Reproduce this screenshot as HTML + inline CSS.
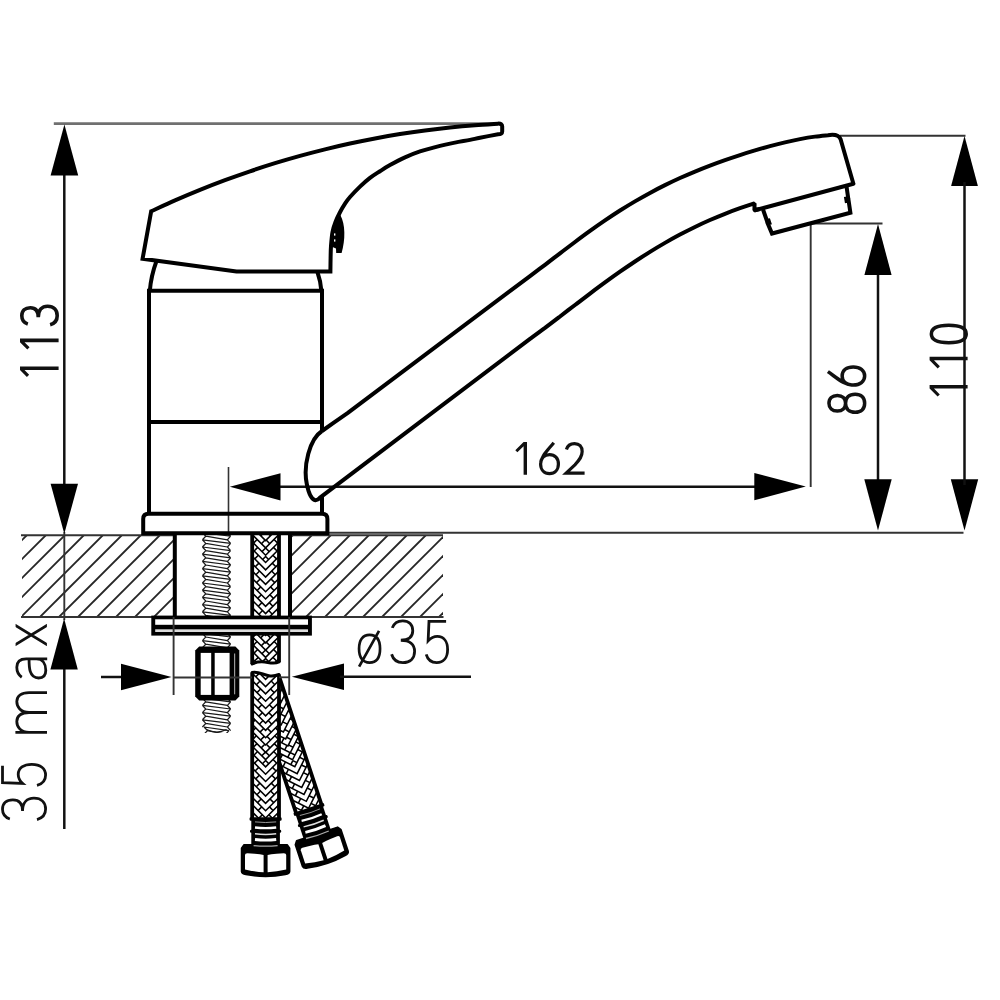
<!DOCTYPE html>
<html><head><meta charset="utf-8"><title>Faucet dimensions</title>
<style>html,body{margin:0;padding:0;background:#fff;width:1000px;height:1000px;overflow:hidden;}svg{display:block;}text{font-family:"Liberation Sans",sans-serif;fill:#111;}</style></head><body>
<svg width="1000" height="1000" viewBox="0 0 1000 1000">
<rect x="0" y="0" width="1000" height="1000" fill="#fff"/>
<defs>
<clipPath id="hatchL"><rect x="22" y="535" width="151.5" height="82"/></clipPath>
<clipPath id="hatchR"><rect x="291" y="535" width="152" height="82"/></clipPath>
</defs>
<g clip-path="url(#hatchL)" stroke="#262626" stroke-width="1.8">
<line x1="-55" y1="617" x2="27" y2="535"/>
<line x1="-36" y1="617" x2="46" y2="535"/>
<line x1="-17" y1="617" x2="65" y2="535"/>
<line x1="2" y1="617" x2="84" y2="535"/>
<line x1="21" y1="617" x2="103" y2="535"/>
<line x1="40" y1="617" x2="122" y2="535"/>
<line x1="59" y1="617" x2="141" y2="535"/>
<line x1="78" y1="617" x2="160" y2="535"/>
<line x1="97" y1="617" x2="179" y2="535"/>
<line x1="116" y1="617" x2="198" y2="535"/>
<line x1="135" y1="617" x2="217" y2="535"/>
<line x1="154" y1="617" x2="236" y2="535"/>
<line x1="173" y1="617" x2="255" y2="535"/>
</g>
<g clip-path="url(#hatchR)" stroke="#262626" stroke-width="1.8">
<line x1="211" y1="617" x2="293" y2="535"/>
<line x1="230" y1="617" x2="312" y2="535"/>
<line x1="249" y1="617" x2="331" y2="535"/>
<line x1="268" y1="617" x2="350" y2="535"/>
<line x1="287" y1="617" x2="369" y2="535"/>
<line x1="306" y1="617" x2="388" y2="535"/>
<line x1="325" y1="617" x2="407" y2="535"/>
<line x1="344" y1="617" x2="426" y2="535"/>
<line x1="363" y1="617" x2="445" y2="535"/>
<line x1="382" y1="617" x2="464" y2="535"/>
<line x1="401" y1="617" x2="483" y2="535"/>
<line x1="420" y1="617" x2="502" y2="535"/>
<line x1="439" y1="617" x2="521" y2="535"/>
</g>
<line x1="21" y1="535.2" x2="173.5" y2="535.2" stroke="#333" stroke-width="2" />
<line x1="291" y1="535.2" x2="443" y2="535.2" stroke="#333" stroke-width="2" />
<line x1="21" y1="617" x2="443.5" y2="617" stroke="#333" stroke-width="2" />
<line x1="53.8" y1="123.7" x2="498" y2="123.7" stroke="#707070" stroke-width="2.7" />
<line x1="327" y1="532.7" x2="963.5" y2="532.7" stroke="#333" stroke-width="1.9" />
<line x1="64.3" y1="170" x2="64.3" y2="490" stroke="#111" stroke-width="2.5" />
<line x1="64.3" y1="532" x2="64.3" y2="620" stroke="#333" stroke-width="1.9" />
<line x1="64.3" y1="665" x2="64.3" y2="829" stroke="#111" stroke-width="2.5" />
<polygon points="64.4,124.6 50.6,175.6 78.2,175.6" fill="#000"/>
<polygon points="64.3,533.8 50.6,483.8 78,483.8" fill="#000"/>
<polygon points="64.1,618.4 50.4,669.4 77.8,669.4" fill="#000"/>
<line x1="275" y1="486.8" x2="760" y2="486.8" stroke="#111" stroke-width="2.5" />
<polygon points="229.8,486.8 280.5,473.2 280.5,500.4" fill="#000"/>
<polygon points="805.8,486.6 754.3,472.9 754.3,500.3" fill="#000"/>
<line x1="228.5" y1="467" x2="228.5" y2="536" stroke="#333" stroke-width="1.6" />
<line x1="810.7" y1="223.5" x2="810.7" y2="487" stroke="#333" stroke-width="1.9" />
<line x1="810" y1="223.5" x2="882.5" y2="223.5" stroke="#333" stroke-width="1.9" />
<line x1="878" y1="270" x2="878" y2="485" stroke="#111" stroke-width="2.5" />
<polygon points="878,224 864.4,275 891.6,275" fill="#000"/>
<polygon points="878,530.6 864.3,479.2 891.7,479.2" fill="#000"/>
<line x1="840" y1="135.8" x2="965.5" y2="135.8" stroke="#333" stroke-width="1.9" />
<polygon points="964.5,136 951.1,186 977.9,186" fill="#000"/>
<polygon points="964.5,530.6 950.8,479.2 978.2,479.2" fill="#000"/>
<line x1="101" y1="677" x2="125" y2="677" stroke="#111" stroke-width="2.5" />
<polygon points="171.6,677 121,663.7 121,690.3" fill="#000"/>
<polygon points="291.8,676.8 344,663.5 344,690.1" fill="#000"/>
<line x1="340" y1="676.8" x2="471" y2="676.8" stroke="#111" stroke-width="2.5" />
<clipPath id="t0"><rect x="195" y="535" width="45" height="82"/></clipPath>
<g clip-path="url(#t0)" fill="none" stroke="#1a1a1a" stroke-width="1.25" stroke-linejoin="miter">
<path d="M202.4,525.4 L230.6,529 M205.8,529 L227.4,532.6 M202.4,525.4 L205.8,529 L202.4,532.6 M230.6,529 L227.4,532.6 L230.6,536.2 M202.4,532.6 L230.6,536.2 M205.8,536.2 L227.4,539.8 M202.4,532.6 L205.8,536.2 L202.4,539.8 M230.6,536.2 L227.4,539.8 L230.6,543.4 M202.4,539.8 L230.6,543.4 M205.8,543.4 L227.4,547 M202.4,539.8 L205.8,543.4 L202.4,547 M230.6,543.4 L227.4,547 L230.6,550.6 M202.4,547 L230.6,550.6 M205.8,550.6 L227.4,554.2 M202.4,547 L205.8,550.6 L202.4,554.2 M230.6,550.6 L227.4,554.2 L230.6,557.8 M202.4,554.2 L230.6,557.8 M205.8,557.8 L227.4,561.4 M202.4,554.2 L205.8,557.8 L202.4,561.4 M230.6,557.8 L227.4,561.4 L230.6,565 M202.4,561.4 L230.6,565 M205.8,565 L227.4,568.6 M202.4,561.4 L205.8,565 L202.4,568.6 M230.6,565 L227.4,568.6 L230.6,572.2 M202.4,568.6 L230.6,572.2 M205.8,572.2 L227.4,575.8 M202.4,568.6 L205.8,572.2 L202.4,575.8 M230.6,572.2 L227.4,575.8 L230.6,579.4 M202.4,575.8 L230.6,579.4 M205.8,579.4 L227.4,583 M202.4,575.8 L205.8,579.4 L202.4,583 M230.6,579.4 L227.4,583 L230.6,586.6 M202.4,583 L230.6,586.6 M205.8,586.6 L227.4,590.2 M202.4,583 L205.8,586.6 L202.4,590.2 M230.6,586.6 L227.4,590.2 L230.6,593.8 M202.4,590.2 L230.6,593.8 M205.8,593.8 L227.4,597.4 M202.4,590.2 L205.8,593.8 L202.4,597.4 M230.6,593.8 L227.4,597.4 L230.6,601 M202.4,597.4 L230.6,601 M205.8,601 L227.4,604.6 M202.4,597.4 L205.8,601 L202.4,604.6 M230.6,601 L227.4,604.6 L230.6,608.2 M202.4,604.6 L230.6,608.2 M205.8,608.2 L227.4,611.8 M202.4,604.6 L205.8,608.2 L202.4,611.8 M230.6,608.2 L227.4,611.8 L230.6,615.4 M202.4,611.8 L230.6,615.4 M205.8,615.4 L227.4,619 M202.4,611.8 L205.8,615.4 L202.4,619 M230.6,615.4 L227.4,619 L230.6,622.6 M202.4,619 L230.6,622.6 M205.8,622.6 L227.4,626.2 M202.4,619 L205.8,622.6 L202.4,626.2 M230.6,622.6 L227.4,626.2 L230.6,629.8 "/>
</g>
<clipPath id="t1"><rect x="195" y="635" width="45" height="13"/></clipPath>
<g clip-path="url(#t1)" fill="none" stroke="#1a1a1a" stroke-width="1.25" stroke-linejoin="miter">
<path d="M202.4,626.2 L230.6,629.8 M205.8,629.8 L227.4,633.4 M202.4,626.2 L205.8,629.8 L202.4,633.4 M230.6,629.8 L227.4,633.4 L230.6,637 M202.4,633.4 L230.6,637 M205.8,637 L227.4,640.6 M202.4,633.4 L205.8,637 L202.4,640.6 M230.6,637 L227.4,640.6 L230.6,644.2 M202.4,640.6 L230.6,644.2 M205.8,644.2 L227.4,647.8 M202.4,640.6 L205.8,644.2 L202.4,647.8 M230.6,644.2 L227.4,647.8 L230.6,651.4 M202.4,647.8 L230.6,651.4 M205.8,651.4 L227.4,655 M202.4,647.8 L205.8,651.4 L202.4,655 M230.6,651.4 L227.4,655 L230.6,658.6 M202.4,655 L230.6,658.6 M205.8,658.6 L227.4,662.2 M202.4,655 L205.8,658.6 L202.4,662.2 M230.6,658.6 L227.4,662.2 L230.6,665.8 "/>
</g>
<clipPath id="t2"><rect x="195" y="699" width="45" height="34"/></clipPath>
<g clip-path="url(#t2)" fill="none" stroke="#1a1a1a" stroke-width="1.25" stroke-linejoin="miter">
<path d="M202.4,691 L230.6,694.6 M205.8,694.6 L227.4,698.2 M202.4,691 L205.8,694.6 L202.4,698.2 M230.6,694.6 L227.4,698.2 L230.6,701.8 M202.4,698.2 L230.6,701.8 M205.8,701.8 L227.4,705.4 M202.4,698.2 L205.8,701.8 L202.4,705.4 M230.6,701.8 L227.4,705.4 L230.6,709 M202.4,705.4 L230.6,709 M205.8,709 L227.4,712.6 M202.4,705.4 L205.8,709 L202.4,712.6 M230.6,709 L227.4,712.6 L230.6,716.2 M202.4,712.6 L230.6,716.2 M205.8,716.2 L227.4,719.8 M202.4,712.6 L205.8,716.2 L202.4,719.8 M230.6,716.2 L227.4,719.8 L230.6,723.4 M202.4,719.8 L230.6,723.4 M205.8,723.4 L227.4,727 M202.4,719.8 L205.8,723.4 L202.4,727 M230.6,723.4 L227.4,727 L230.6,730.6 M204.05,727 L228.95,730.6 M207.45,730.6 L225.75,734.2 M204.05,727 L207.45,730.6 L204.05,734.2 M228.95,730.6 L225.75,734.2 L228.95,737.8 M208.01,734.2 L224.99,737.8 M211.41,737.8 L221.79,741.4 M208.01,734.2 L211.41,737.8 L208.01,741.4 M224.99,737.8 L221.79,741.4 L224.99,745 "/>
<path d="M206.4,729.5 Q216.5,734.6 226.6,729.5" />
</g>
<g transform="rotate(-18.3 279.5 676)">
<clipPath id="hb0"><path d="M252.2,676.5 L279,676.5 L279,811.5 L252.2,811.5 Z"/></clipPath>
<path d="M252.2,676.5 L279,676.5 L279,811.5 L252.2,811.5 Z" fill="#fff" stroke="none"/>
<g clip-path="url(#hb0)" stroke="#000" stroke-width="1.55" fill="none">
<path d="M252.6,644.4 L265.6,657.4 L278.6,644.4"/>
<path d="M253.4,645.2 l3.65,-3.65 M277.8,645.2 l-3.65,-3.65"/>
<path d="M261.9,653.7 l3.65,-3.65 M269.3,653.7 l-3.65,-3.65"/>
<path d="M252.6,651.7 L265.6,664.7 L278.6,651.7"/>
<path d="M254,653.1 l3.65,-3.65 M277.2,653.1 l-3.65,-3.65"/>
<path d="M262.5,661.6 l3.1,-3.1 M268.7,661.6 l-3.1,-3.1"/>
<path d="M252.6,659 L265.6,672 L278.6,659"/>
<path d="M254.6,661 l3.65,-3.65 M276.6,661 l-3.65,-3.65"/>
<path d="M252.6,666.3 L265.6,679.3 L278.6,666.3"/>
<path d="M255.2,668.9 l3.65,-3.65 M276,668.9 l-3.65,-3.65"/>
<path d="M252.6,673.6 L265.6,686.6 L278.6,673.6"/>
<path d="M255.8,676.8 l3.65,-3.65 M275.4,676.8 l-3.65,-3.65"/>
<path d="M252.6,680.9 L265.6,693.9 L278.6,680.9"/>
<path d="M256.4,684.7 l3.65,-3.65 M274.8,684.7 l-3.65,-3.65"/>
<path d="M252.6,688.2 L265.6,701.2 L278.6,688.2"/>
<path d="M248.5,684.1 l3.65,-3.65 M282.7,684.1 l-3.65,-3.65"/>
<path d="M257,692.6 l3.65,-3.65 M274.2,692.6 l-3.65,-3.65"/>
<path d="M252.6,695.5 L265.6,708.5 L278.6,695.5"/>
<path d="M249.1,692 l3.65,-3.65 M282.1,692 l-3.65,-3.65"/>
<path d="M257.6,700.5 l3.65,-3.65 M273.6,700.5 l-3.65,-3.65"/>
<path d="M252.6,702.8 L265.6,715.8 L278.6,702.8"/>
<path d="M249.7,699.9 l3.65,-3.65 M281.5,699.9 l-3.65,-3.65"/>
<path d="M258.2,708.4 l3.65,-3.65 M273,708.4 l-3.65,-3.65"/>
<path d="M252.6,710.1 L265.6,723.1 L278.6,710.1"/>
<path d="M250.3,707.8 l3.65,-3.65 M280.9,707.8 l-3.65,-3.65"/>
<path d="M258.8,716.3 l3.65,-3.65 M272.4,716.3 l-3.65,-3.65"/>
<path d="M252.6,717.4 L265.6,730.4 L278.6,717.4"/>
<path d="M250.9,715.7 l3.65,-3.65 M280.3,715.7 l-3.65,-3.65"/>
<path d="M259.4,724.2 l3.65,-3.65 M271.8,724.2 l-3.65,-3.65"/>
<path d="M252.6,724.7 L265.6,737.7 L278.6,724.7"/>
<path d="M251.5,723.6 l3.65,-3.65 M279.7,723.6 l-3.65,-3.65"/>
<path d="M260,732.1 l3.65,-3.65 M271.2,732.1 l-3.65,-3.65"/>
<path d="M252.6,732 L265.6,745 L278.6,732"/>
<path d="M252.1,731.5 l3.65,-3.65 M279.1,731.5 l-3.65,-3.65"/>
<path d="M260.6,740 l3.65,-3.65 M270.6,740 l-3.65,-3.65"/>
<path d="M252.6,739.3 L265.6,752.3 L278.6,739.3"/>
<path d="M252.7,739.4 l3.65,-3.65 M278.5,739.4 l-3.65,-3.65"/>
<path d="M261.2,747.9 l3.65,-3.65 M270,747.9 l-3.65,-3.65"/>
<path d="M252.6,746.6 L265.6,759.6 L278.6,746.6"/>
<path d="M253.3,747.3 l3.65,-3.65 M277.9,747.3 l-3.65,-3.65"/>
<path d="M261.8,755.8 l3.65,-3.65 M269.4,755.8 l-3.65,-3.65"/>
<path d="M252.6,753.9 L265.6,766.9 L278.6,753.9"/>
<path d="M253.9,755.2 l3.65,-3.65 M277.3,755.2 l-3.65,-3.65"/>
<path d="M262.4,763.7 l3.2,-3.2 M268.8,763.7 l-3.2,-3.2"/>
<path d="M252.6,761.2 L265.6,774.2 L278.6,761.2"/>
<path d="M254.5,763.1 l3.65,-3.65 M276.7,763.1 l-3.65,-3.65"/>
<path d="M252.6,768.5 L265.6,781.5 L278.6,768.5"/>
<path d="M255.1,771 l3.65,-3.65 M276.1,771 l-3.65,-3.65"/>
<path d="M252.6,775.8 L265.6,788.8 L278.6,775.8"/>
<path d="M255.7,778.9 l3.65,-3.65 M275.5,778.9 l-3.65,-3.65"/>
<path d="M252.6,783.1 L265.6,796.1 L278.6,783.1"/>
<path d="M256.3,786.8 l3.65,-3.65 M274.9,786.8 l-3.65,-3.65"/>
<path d="M252.6,790.4 L265.6,803.4 L278.6,790.4"/>
<path d="M256.9,794.7 l3.65,-3.65 M274.3,794.7 l-3.65,-3.65"/>
<path d="M252.6,797.7 L265.6,810.7 L278.6,797.7"/>
<path d="M249,794.1 l3.65,-3.65 M282.2,794.1 l-3.65,-3.65"/>
<path d="M257.5,802.6 l3.65,-3.65 M273.7,802.6 l-3.65,-3.65"/>
<path d="M252.6,805 L265.6,818 L278.6,805"/>
<path d="M249.6,802 l3.65,-3.65 M281.6,802 l-3.65,-3.65"/>
<path d="M258.1,810.5 l3.65,-3.65 M273.1,810.5 l-3.65,-3.65"/>
<path d="M252.6,812.3 L265.6,825.3 L278.6,812.3"/>
<path d="M250.2,809.9 l3.65,-3.65 M281,809.9 l-3.65,-3.65"/>
<path d="M258.7,818.4 l3.65,-3.65 M272.5,818.4 l-3.65,-3.65"/>
<path d="M252.6,819.6 L265.6,832.6 L278.6,819.6"/>
<path d="M250.8,817.8 l3.65,-3.65 M280.4,817.8 l-3.65,-3.65"/>
<path d="M259.3,826.3 l3.65,-3.65 M271.9,826.3 l-3.65,-3.65"/>
<path d="M252.6,826.9 L265.6,839.9 L278.6,826.9"/>
<path d="M251.4,825.7 l3.65,-3.65 M279.8,825.7 l-3.65,-3.65"/>
<path d="M259.9,834.2 l3.65,-3.65 M271.3,834.2 l-3.65,-3.65"/>
</g>
<path d="M252.2,676.5 L252.2,811.5 M279,676.5 L279,811.5" stroke="#000" stroke-width="3.8" fill="none"/>
<rect x="249.6" y="810.2" width="32" height="3.6" fill="#000" rx="1.2"/>
<rect x="251.3" y="811.5" width="28.6" height="27" fill="#000"/>
<rect x="250" y="822.7" width="31.2" height="3" fill="#000" rx="1.2"/>
<path d="M255,814.9 Q265.6,816.1 276.2,814.9" stroke="#999" stroke-width="1" fill="none"/>
<path d="M255,820.5 Q265.6,821.7 276.2,820.5" stroke="#fff" stroke-width="2.4" fill="none"/>
<path d="M255,826.8 Q265.6,828 276.2,826.8" stroke="#ddd" stroke-width="1.5" fill="none"/>
<path d="M255,832.5 Q265.6,833.7 276.2,832.5" stroke="#fff" stroke-width="2.8" fill="none"/>
<path d="M244,837.7 L287.2,837.7 L289.7,841.2 L289.7,864 Q289.4,866.6 285.4,867 Q265.6,870.8 245.8,867 Q241.8,866.6 241.5,864 L241.5,841.2 Z" fill="#000" stroke="#000" stroke-width="1.5" stroke-linejoin="round"/>
<path d="M245,848.1 Q245,846.3 247.3,846.3 L254.6,846.7 Q260.6,847.2 263.6,847.9 L263.6,864.8 Q254.6,864.3 245,862 Z" fill="#fff"/>
<path d="M286.2,848.1 Q286.2,846.3 283.9,846.3 L276.6,846.7 Q270.6,847.2 267.6,847.9 L267.6,864.8 Q276.6,864.3 286.2,862 Z" fill="#fff"/>
<path d="M253.6,838.6 Q265.6,839.8 277.6,838.6" stroke="#aaa" stroke-width="1.3" fill="none"/>
</g>
<g>
<clipPath id="ha0"><path d="M252.2,533 L279,533 L279,662 C270,666 264.2,658 252.2,664 Z"/></clipPath>
<path d="M252.2,533 L279,533 L279,662 C270,666 264.2,658 252.2,664 Z" fill="#fff" stroke="none"/>
<g clip-path="url(#ha0)" stroke="#000" stroke-width="1.55" fill="none">
<path d="M252.6,498.4 L265.6,511.4 L278.6,498.4"/>
<path d="M249.9,495.7 l3.65,-3.65 M281.3,495.7 l-3.65,-3.65"/>
<path d="M258.4,504.2 l3.65,-3.65 M272.8,504.2 l-3.65,-3.65"/>
<path d="M252.6,505.7 L265.6,518.7 L278.6,505.7"/>
<path d="M250.5,503.6 l3.65,-3.65 M280.7,503.6 l-3.65,-3.65"/>
<path d="M259,512.1 l3.65,-3.65 M272.2,512.1 l-3.65,-3.65"/>
<path d="M252.6,513 L265.6,526 L278.6,513"/>
<path d="M251.1,511.5 l3.65,-3.65 M280.1,511.5 l-3.65,-3.65"/>
<path d="M259.6,520 l3.65,-3.65 M271.6,520 l-3.65,-3.65"/>
<path d="M252.6,520.3 L265.6,533.3 L278.6,520.3"/>
<path d="M251.7,519.4 l3.65,-3.65 M279.5,519.4 l-3.65,-3.65"/>
<path d="M260.2,527.9 l3.65,-3.65 M271,527.9 l-3.65,-3.65"/>
<path d="M252.6,527.6 L265.6,540.6 L278.6,527.6"/>
<path d="M252.3,527.3 l3.65,-3.65 M278.9,527.3 l-3.65,-3.65"/>
<path d="M260.8,535.8 l3.65,-3.65 M270.4,535.8 l-3.65,-3.65"/>
<path d="M252.6,534.9 L265.6,547.9 L278.6,534.9"/>
<path d="M252.9,535.2 l3.65,-3.65 M278.3,535.2 l-3.65,-3.65"/>
<path d="M261.4,543.7 l3.65,-3.65 M269.8,543.7 l-3.65,-3.65"/>
<path d="M252.6,542.2 L265.6,555.2 L278.6,542.2"/>
<path d="M253.5,543.1 l3.65,-3.65 M277.7,543.1 l-3.65,-3.65"/>
<path d="M262,551.6 l3.6,-3.6 M269.2,551.6 l-3.6,-3.6"/>
<path d="M252.6,549.5 L265.6,562.5 L278.6,549.5"/>
<path d="M254.1,551 l3.65,-3.65 M277.1,551 l-3.65,-3.65"/>
<path d="M262.6,559.5 l3,-3 M268.6,559.5 l-3,-3"/>
<path d="M252.6,556.8 L265.6,569.8 L278.6,556.8"/>
<path d="M254.7,558.9 l3.65,-3.65 M276.5,558.9 l-3.65,-3.65"/>
<path d="M252.6,564.1 L265.6,577.1 L278.6,564.1"/>
<path d="M255.3,566.8 l3.65,-3.65 M275.9,566.8 l-3.65,-3.65"/>
<path d="M252.6,571.4 L265.6,584.4 L278.6,571.4"/>
<path d="M255.9,574.7 l3.65,-3.65 M275.3,574.7 l-3.65,-3.65"/>
<path d="M252.6,578.7 L265.6,591.7 L278.6,578.7"/>
<path d="M256.5,582.6 l3.65,-3.65 M274.7,582.6 l-3.65,-3.65"/>
<path d="M252.6,586 L265.6,599 L278.6,586"/>
<path d="M248.6,582 l3.65,-3.65 M282.6,582 l-3.65,-3.65"/>
<path d="M257.1,590.5 l3.65,-3.65 M274.1,590.5 l-3.65,-3.65"/>
<path d="M252.6,593.3 L265.6,606.3 L278.6,593.3"/>
<path d="M249.2,589.9 l3.65,-3.65 M282,589.9 l-3.65,-3.65"/>
<path d="M257.7,598.4 l3.65,-3.65 M273.5,598.4 l-3.65,-3.65"/>
<path d="M252.6,600.6 L265.6,613.6 L278.6,600.6"/>
<path d="M249.8,597.8 l3.65,-3.65 M281.4,597.8 l-3.65,-3.65"/>
<path d="M258.3,606.3 l3.65,-3.65 M272.9,606.3 l-3.65,-3.65"/>
<path d="M252.6,607.9 L265.6,620.9 L278.6,607.9"/>
<path d="M250.4,605.7 l3.65,-3.65 M280.8,605.7 l-3.65,-3.65"/>
<path d="M258.9,614.2 l3.65,-3.65 M272.3,614.2 l-3.65,-3.65"/>
<path d="M252.6,615.2 L265.6,628.2 L278.6,615.2"/>
<path d="M251,613.6 l3.65,-3.65 M280.2,613.6 l-3.65,-3.65"/>
<path d="M259.5,622.1 l3.65,-3.65 M271.7,622.1 l-3.65,-3.65"/>
<path d="M252.6,622.5 L265.6,635.5 L278.6,622.5"/>
<path d="M251.6,621.5 l3.65,-3.65 M279.6,621.5 l-3.65,-3.65"/>
<path d="M260.1,630 l3.65,-3.65 M271.1,630 l-3.65,-3.65"/>
<path d="M252.6,629.8 L265.6,642.8 L278.6,629.8"/>
<path d="M252.2,629.4 l3.65,-3.65 M279,629.4 l-3.65,-3.65"/>
<path d="M260.7,637.9 l3.65,-3.65 M270.5,637.9 l-3.65,-3.65"/>
<path d="M252.6,637.1 L265.6,650.1 L278.6,637.1"/>
<path d="M252.8,637.3 l3.65,-3.65 M278.4,637.3 l-3.65,-3.65"/>
<path d="M261.3,645.8 l3.65,-3.65 M269.9,645.8 l-3.65,-3.65"/>
<path d="M252.6,644.4 L265.6,657.4 L278.6,644.4"/>
<path d="M253.4,645.2 l3.65,-3.65 M277.8,645.2 l-3.65,-3.65"/>
<path d="M261.9,653.7 l3.65,-3.65 M269.3,653.7 l-3.65,-3.65"/>
<path d="M252.6,651.7 L265.6,664.7 L278.6,651.7"/>
<path d="M254,653.1 l3.65,-3.65 M277.2,653.1 l-3.65,-3.65"/>
<path d="M262.5,661.6 l3.1,-3.1 M268.7,661.6 l-3.1,-3.1"/>
<path d="M252.6,659 L265.6,672 L278.6,659"/>
<path d="M254.6,661 l3.65,-3.65 M276.6,661 l-3.65,-3.65"/>
<path d="M252.6,666.3 L265.6,679.3 L278.6,666.3"/>
<path d="M255.2,668.9 l3.65,-3.65 M276,668.9 l-3.65,-3.65"/>
<path d="M252.6,673.6 L265.6,686.6 L278.6,673.6"/>
<path d="M255.8,676.8 l3.65,-3.65 M275.4,676.8 l-3.65,-3.65"/>
<path d="M252.6,680.9 L265.6,693.9 L278.6,680.9"/>
<path d="M256.4,684.7 l3.65,-3.65 M274.8,684.7 l-3.65,-3.65"/>
</g>
<path d="M252.2,533 L252.2,664 M279,533 L279,662" stroke="#000" stroke-width="3.8" fill="none"/>
<path d="M279,662 C270,666 264.2,658 252.2,664" stroke="#000" stroke-width="3" fill="none" stroke-linecap="round"/>
<clipPath id="ha1"><path d="M252.2,672.5 C261.2,670.5 267,679.5 279,674.5 L279,818.5 L252.2,818.5 Z"/></clipPath>
<path d="M252.2,672.5 C261.2,670.5 267,679.5 279,674.5 L279,818.5 L252.2,818.5 Z" fill="#fff" stroke="none"/>
<g clip-path="url(#ha1)" stroke="#000" stroke-width="1.55" fill="none">
<path d="M252.6,644.4 L265.6,657.4 L278.6,644.4"/>
<path d="M253.4,645.2 l3.65,-3.65 M277.8,645.2 l-3.65,-3.65"/>
<path d="M261.9,653.7 l3.65,-3.65 M269.3,653.7 l-3.65,-3.65"/>
<path d="M252.6,651.7 L265.6,664.7 L278.6,651.7"/>
<path d="M254,653.1 l3.65,-3.65 M277.2,653.1 l-3.65,-3.65"/>
<path d="M262.5,661.6 l3.1,-3.1 M268.7,661.6 l-3.1,-3.1"/>
<path d="M252.6,659 L265.6,672 L278.6,659"/>
<path d="M254.6,661 l3.65,-3.65 M276.6,661 l-3.65,-3.65"/>
<path d="M252.6,666.3 L265.6,679.3 L278.6,666.3"/>
<path d="M255.2,668.9 l3.65,-3.65 M276,668.9 l-3.65,-3.65"/>
<path d="M252.6,673.6 L265.6,686.6 L278.6,673.6"/>
<path d="M255.8,676.8 l3.65,-3.65 M275.4,676.8 l-3.65,-3.65"/>
<path d="M252.6,680.9 L265.6,693.9 L278.6,680.9"/>
<path d="M256.4,684.7 l3.65,-3.65 M274.8,684.7 l-3.65,-3.65"/>
<path d="M252.6,688.2 L265.6,701.2 L278.6,688.2"/>
<path d="M248.5,684.1 l3.65,-3.65 M282.7,684.1 l-3.65,-3.65"/>
<path d="M257,692.6 l3.65,-3.65 M274.2,692.6 l-3.65,-3.65"/>
<path d="M252.6,695.5 L265.6,708.5 L278.6,695.5"/>
<path d="M249.1,692 l3.65,-3.65 M282.1,692 l-3.65,-3.65"/>
<path d="M257.6,700.5 l3.65,-3.65 M273.6,700.5 l-3.65,-3.65"/>
<path d="M252.6,702.8 L265.6,715.8 L278.6,702.8"/>
<path d="M249.7,699.9 l3.65,-3.65 M281.5,699.9 l-3.65,-3.65"/>
<path d="M258.2,708.4 l3.65,-3.65 M273,708.4 l-3.65,-3.65"/>
<path d="M252.6,710.1 L265.6,723.1 L278.6,710.1"/>
<path d="M250.3,707.8 l3.65,-3.65 M280.9,707.8 l-3.65,-3.65"/>
<path d="M258.8,716.3 l3.65,-3.65 M272.4,716.3 l-3.65,-3.65"/>
<path d="M252.6,717.4 L265.6,730.4 L278.6,717.4"/>
<path d="M250.9,715.7 l3.65,-3.65 M280.3,715.7 l-3.65,-3.65"/>
<path d="M259.4,724.2 l3.65,-3.65 M271.8,724.2 l-3.65,-3.65"/>
<path d="M252.6,724.7 L265.6,737.7 L278.6,724.7"/>
<path d="M251.5,723.6 l3.65,-3.65 M279.7,723.6 l-3.65,-3.65"/>
<path d="M260,732.1 l3.65,-3.65 M271.2,732.1 l-3.65,-3.65"/>
<path d="M252.6,732 L265.6,745 L278.6,732"/>
<path d="M252.1,731.5 l3.65,-3.65 M279.1,731.5 l-3.65,-3.65"/>
<path d="M260.6,740 l3.65,-3.65 M270.6,740 l-3.65,-3.65"/>
<path d="M252.6,739.3 L265.6,752.3 L278.6,739.3"/>
<path d="M252.7,739.4 l3.65,-3.65 M278.5,739.4 l-3.65,-3.65"/>
<path d="M261.2,747.9 l3.65,-3.65 M270,747.9 l-3.65,-3.65"/>
<path d="M252.6,746.6 L265.6,759.6 L278.6,746.6"/>
<path d="M253.3,747.3 l3.65,-3.65 M277.9,747.3 l-3.65,-3.65"/>
<path d="M261.8,755.8 l3.65,-3.65 M269.4,755.8 l-3.65,-3.65"/>
<path d="M252.6,753.9 L265.6,766.9 L278.6,753.9"/>
<path d="M253.9,755.2 l3.65,-3.65 M277.3,755.2 l-3.65,-3.65"/>
<path d="M262.4,763.7 l3.2,-3.2 M268.8,763.7 l-3.2,-3.2"/>
<path d="M252.6,761.2 L265.6,774.2 L278.6,761.2"/>
<path d="M254.5,763.1 l3.65,-3.65 M276.7,763.1 l-3.65,-3.65"/>
<path d="M252.6,768.5 L265.6,781.5 L278.6,768.5"/>
<path d="M255.1,771 l3.65,-3.65 M276.1,771 l-3.65,-3.65"/>
<path d="M252.6,775.8 L265.6,788.8 L278.6,775.8"/>
<path d="M255.7,778.9 l3.65,-3.65 M275.5,778.9 l-3.65,-3.65"/>
<path d="M252.6,783.1 L265.6,796.1 L278.6,783.1"/>
<path d="M256.3,786.8 l3.65,-3.65 M274.9,786.8 l-3.65,-3.65"/>
<path d="M252.6,790.4 L265.6,803.4 L278.6,790.4"/>
<path d="M256.9,794.7 l3.65,-3.65 M274.3,794.7 l-3.65,-3.65"/>
<path d="M252.6,797.7 L265.6,810.7 L278.6,797.7"/>
<path d="M249,794.1 l3.65,-3.65 M282.2,794.1 l-3.65,-3.65"/>
<path d="M257.5,802.6 l3.65,-3.65 M273.7,802.6 l-3.65,-3.65"/>
<path d="M252.6,805 L265.6,818 L278.6,805"/>
<path d="M249.6,802 l3.65,-3.65 M281.6,802 l-3.65,-3.65"/>
<path d="M258.1,810.5 l3.65,-3.65 M273.1,810.5 l-3.65,-3.65"/>
<path d="M252.6,812.3 L265.6,825.3 L278.6,812.3"/>
<path d="M250.2,809.9 l3.65,-3.65 M281,809.9 l-3.65,-3.65"/>
<path d="M258.7,818.4 l3.65,-3.65 M272.5,818.4 l-3.65,-3.65"/>
<path d="M252.6,819.6 L265.6,832.6 L278.6,819.6"/>
<path d="M250.8,817.8 l3.65,-3.65 M280.4,817.8 l-3.65,-3.65"/>
<path d="M259.3,826.3 l3.65,-3.65 M271.9,826.3 l-3.65,-3.65"/>
<path d="M252.6,826.9 L265.6,839.9 L278.6,826.9"/>
<path d="M251.4,825.7 l3.65,-3.65 M279.8,825.7 l-3.65,-3.65"/>
<path d="M259.9,834.2 l3.65,-3.65 M271.3,834.2 l-3.65,-3.65"/>
<path d="M252.6,834.2 L265.6,847.2 L278.6,834.2"/>
<path d="M252,833.6 l3.65,-3.65 M279.2,833.6 l-3.65,-3.65"/>
<path d="M260.5,842.1 l3.65,-3.65 M270.7,842.1 l-3.65,-3.65"/>
</g>
<path d="M252.2,672.5 L252.2,818.5 M279,674.5 L279,818.5" stroke="#000" stroke-width="3.8" fill="none"/>
<path d="M252.2,672.5 C261.2,670.5 267,679.5 279,674.5" stroke="#000" stroke-width="3" fill="none" stroke-linecap="round"/>
<rect x="249.6" y="817.2" width="32" height="3.6" fill="#000" rx="1.2"/>
<rect x="251.3" y="818.5" width="28.6" height="27" fill="#000"/>
<rect x="250" y="829.7" width="31.2" height="3" fill="#000" rx="1.2"/>
<path d="M255,821.9 Q265.6,823.1 276.2,821.9" stroke="#999" stroke-width="1" fill="none"/>
<path d="M255,827.5 Q265.6,828.7 276.2,827.5" stroke="#fff" stroke-width="2.4" fill="none"/>
<path d="M255,833.8 Q265.6,835 276.2,833.8" stroke="#ddd" stroke-width="1.5" fill="none"/>
<path d="M255,839.5 Q265.6,840.7 276.2,839.5" stroke="#fff" stroke-width="2.8" fill="none"/>
<path d="M244,844.7 L287.2,844.7 L289.7,848.2 L289.7,871.5 Q289.4,874.1 285.4,874.5 Q265.6,878.3 245.8,874.5 Q241.8,874.1 241.5,871.5 L241.5,848.2 Z" fill="#000" stroke="#000" stroke-width="1.5" stroke-linejoin="round"/>
<path d="M245,855.1 Q245,853.3 247.3,853.3 L254.6,853.7 Q260.6,854.2 263.6,854.9 L263.6,872.3 Q254.6,871.8 245,869.5 Z" fill="#fff"/>
<path d="M286.2,855.1 Q286.2,853.3 283.9,853.3 L276.6,853.7 Q270.6,854.2 267.6,854.9 L267.6,872.3 Q276.6,871.8 286.2,869.5 Z" fill="#fff"/>
<path d="M253.6,845.6 Q265.6,846.8 277.6,845.6" stroke="#aaa" stroke-width="1.3" fill="none"/>
</g>
<path d="M174.8,533 L174.8,617 M290,533 L290,617" fill="none" stroke="#000" stroke-width="4" />
<rect x="151.3" y="615.6" width="160.6" height="20" fill="#000"/>
<rect x="155.2" y="619.3" width="152.8" height="5.5" fill="#fff"/>
<rect x="155.2" y="629.3" width="152.8" height="2.7" fill="#dcdcdc"/>
<path d="M199.2,646.5 L235.4,646.5 L239.3,650.6 L239.3,696.4 L235.4,700.4 L199.2,700.4 L195.2,696.4 L195.2,650.6 Z" fill="#000"/>
<rect x="200.7" y="652.9" width="10.5" height="42" fill="#fff"/>
<rect x="214.7" y="652.9" width="14.9" height="42" fill="#fff"/>
<rect x="234" y="653.5" width="1.2" height="40.8" fill="#999"/>
<line x1="173.8" y1="677.5" x2="252" y2="677.5" stroke="#333" stroke-width="1.9" />
<line x1="279" y1="677.3" x2="289.2" y2="677.3" stroke="#333" stroke-width="1.8" />
<line x1="173.6" y1="617" x2="173.6" y2="695" stroke="#333" stroke-width="1.9" />
<line x1="289.2" y1="617" x2="289.2" y2="695" stroke="#333" stroke-width="1.9" />
<path d="M143.2,533.2 L143.2,519 Q143.2,513.8 148.6,513.8 L322,513.8 Q327.4,513.8 327.4,519 L327.4,533.2 Z" fill="none" stroke="#000" stroke-width="4" stroke-linejoin="miter"/>
<path d="M149,291 L149,514" fill="none" stroke="#000" stroke-width="4" />
<path d="M322,291 L322,432 M322,497 L322,514" fill="none" stroke="#000" stroke-width="4" />
<path d="M147,290.8 L324,290.8" fill="none" stroke="#000" stroke-width="4" />
<path d="M147.2,422 L322,422" fill="none" stroke="#000" stroke-width="4" />
<path d="M156.5,261 Q151,276 149.8,291" fill="none" stroke="#000" stroke-width="4" />
<path d="M317.3,271.5 Q320.6,281 321.4,291" fill="none" stroke="#000" stroke-width="4" />
<path d="M142.6,258.7 L151.2,211.23 C155.17,209.43 166.87,203.97 175,200.41 C183.13,196.85 191.67,193.25 200,189.88 C208.33,186.51 216.67,183.29 225,180.19 C233.33,177.09 241.67,174.13 250,171.3 C258.33,168.47 266.67,165.78 275,163.21 C283.33,160.64 291.67,158.21 300,155.9 C308.33,153.59 316.67,151.4 325,149.34 C333.33,147.28 341.67,145.35 350,143.54 C358.33,141.73 366.67,140.03 375,138.46 C383.33,136.89 391.67,135.43 400,134.09 C408.33,132.75 416.67,131.54 425,130.43 C433.33,129.32 441.67,128.33 450,127.45 C458.33,126.57 467,125.79 475,125.15 C483,124.51 494.17,123.88 498,123.63 Q502.2,123.4 502.2,126.5 L502.2,131.5 Q502.2,134.4 498,134.3 C495,134.87 484.67,136.77 480,137.7 C475.33,138.63 474.17,139.08 470,139.9 C465.83,140.72 460,141.6 455,142.6 C450,143.6 445.83,144.43 440,145.9 C434.17,147.37 425.83,149.48 420,151.4 C414.17,153.32 410,155.12 405,157.4 C400,159.68 394.17,162.8 390,165.1 C385.83,167.4 383.33,169.07 380,171.2 C376.67,173.33 373.33,175.33 370,177.9 C366.67,180.47 363.33,183.42 360,186.6 C356.67,189.78 352.47,194.2 350,197 C347.53,199.8 346.87,200.87 345.2,203.4 C343.53,205.93 341.62,209.1 340,212.2 C338.38,215.3 336.75,218.7 335.5,222 C334.25,225.3 333.25,228 332.5,232 C331.75,236 331.32,241.67 331,246 C330.68,250.33 330.7,253.73 330.6,258 C330.5,262.27 330.43,269.33 330.4,271.6 L236.5,271.6 Z" fill="none" stroke="#000" stroke-width="4" stroke-linejoin="miter" stroke-miterlimit="6"/>
<path d="M340.3,215 C345.5,224 345.5,240 341.6,253 L336.2,253 L336,248.5 L330.2,246 C331,234 335,222 340.3,215 Z" fill="#000"/>
<rect x="334" y="233.4" width="1.4" height="2.2" fill="#fff"/><rect x="334" y="239.4" width="1.4" height="2.2" fill="#fff"/>
<path d="M322,431 Q334,422.4 347.5,413.1 L530,276.03 C532.5,274.16 540,268.6 545,264.82 C550,261.04 555,257.17 560,253.36 C565,249.55 570,245.72 575,241.98 C580,238.24 585,234.53 590,230.94 C595,227.35 600,223.82 605,220.42 C610,217.02 615,213.71 620,210.54 C625,207.37 630,204.31 635,201.37 C640,198.43 645,195.6 650,192.9 C655,190.2 660,187.62 665,185.15 C670,182.68 675,180.32 680,178.05 C685,175.78 690,173.63 695,171.55 C700,169.47 705,167.49 710,165.58 C715,163.67 720,161.85 725,160.09 C730,158.33 735,156.65 740,155.03 C745,153.41 750,151.86 755,150.38 C760,148.9 765,147.47 770,146.13 C775,144.79 780,143.51 785,142.34 C790,141.17 795,140.07 800,139.12 C805,138.17 810.33,137.28 815,136.63 C819.67,135.98 825.83,135.46 828,135.23 Q838.4,133.6 840.6,139.2 L853.4,183.8" fill="none" stroke="#000" stroke-width="4" stroke-linejoin="round"/>
<path d="M322,431 C309.5,439 303,466 306.8,484 C308.6,493 311.4,499.6 315.4,500.2 Q317.6,500.4 320,497.6 L530,338.9 C532.5,337.06 540,331.61 545,327.87 C550,324.13 555,320.3 560,316.48 C565,312.67 570,308.8 575,304.98 C580,301.16 585,297.33 590,293.57 C595,289.81 600,286.07 605,282.43 C610,278.79 615,275.19 620,271.7 C625,268.21 630,264.78 635,261.47 C640,258.16 645,254.94 650,251.84 C655,248.74 660,245.74 665,242.86 C670,239.98 675,237.21 680,234.56 C685,231.91 690,229.37 695,226.95 C700,224.53 705,222.23 710,220.04 C715,217.85 720,215.77 725,213.8 C730,211.83 735.5,209.82 740,208.22 C744.5,206.62 749.57,204.99 752,204.19 C754.43,203.39 754.17,203.53 754.6,203.4 L754.4,210.2 L760,209" fill="none" stroke="#000" stroke-width="4" stroke-linejoin="bevel"/>
<path d="M755,210.2 L853.4,183.8" fill="none" stroke="#000" stroke-width="4" stroke-linecap="round"/>
<path d="M763,209.5 L767,221 L768.6,220.6 L769.4,223 L767.8,223.6 L772,233.5 L850.4,212.8 L848.6,200.6 L846.6,201 L846.2,198.6 L848.2,198.2 L846.6,187" fill="none" stroke="#000" stroke-width="4" stroke-linejoin="miter"/>
<line x1="964.5" y1="182" x2="964.5" y2="485" stroke="#111" stroke-width="2.5" />
<g transform="matrix(0 -1 1 0 20 326.5)"><path d="M2.35,7.82 C3.64,3.92 6.77,1.8 10.63,1.8 C15.78,1.8 18.73,4.99 18.73,10.3 C18.73,15.61 15.42,18.26 9.16,18.26 M9.16,18.26 C16.52,18.26 20.2,21.98 20.2,27.64 C20.2,33.66 16.52,37.2 10.82,37.2 C6.4,37.2 3.09,34.72 1.8,30.12" fill="none" stroke="#111" stroke-width="3.6" /></g>
<polygon points="20,338.6 58.6,338.6 58.6,342.3 24.5,342.3 29.55,347.35 27.3,349.6 20,342.3" fill="#111"/>
<polygon points="20,366.4 58.6,366.4 58.6,370.1 24.5,370.1 29.15,374.75 26.9,377 20,370.1" fill="#111"/>
<g transform="matrix(0 -1 1 0 929.6 344.4)"><path d="M1.75,19.2 C1.75,7.68 4.52,1.75 10.4,1.75 C16.28,1.75 19.05,7.68 19.05,19.2 C19.05,30.72 16.28,36.65 10.4,36.65 C4.52,36.65 1.75,30.72 1.75,19.2 Z" fill="none" stroke="#111" stroke-width="3.5" /></g>
<polygon points="929.6,356.7 967.6,356.7 967.6,360.3 933.98,360.3 939.89,366.21 937.7,368.4 929.6,360.3" fill="#111"/>
<polygon points="929.6,385 967.6,385 967.6,388.6 933.98,388.6 939.79,394.41 937.6,396.6 929.6,388.6" fill="#111"/>
<g transform="matrix(0 -1 1 0 827.2 386.8)"><path d="M15.14,0.7 C8.99,9.6 1.75,17.1 1.75,26.03 C1.75,32.81 5.37,37.45 10.8,37.45 C16.23,37.45 19.85,32.81 19.85,26.03 C19.85,19.24 16.23,14.96 10.8,14.96 C6.09,14.96 2.47,18.53 1.75,24.6" fill="none" stroke="#111" stroke-width="3.5" /></g>
<g transform="matrix(0 -1 1 0 827.2 414)"><path d="M10.8,1.75 C15.69,1.75 18.58,4.96 18.58,10.14 C18.58,15.32 15.69,18.35 10.8,18.35 C5.91,18.35 3.02,15.32 3.02,10.14 C3.02,4.96 5.91,1.75 10.8,1.75 Z M10.8,18.35 C16.59,18.35 19.85,22.1 19.85,27.99 C19.85,33.88 16.59,37.45 10.8,37.45 C5.01,37.45 1.75,33.88 1.75,27.99 C1.75,22.1 5.01,18.35 10.8,18.35 Z" fill="none" stroke="#111" stroke-width="3.5" /></g>
<polygon points="527,442 527,474.8 523.6,474.8 523.6,446.14 517.37,452.37 515.3,450.3 523.6,442" fill="#111"/>
<g transform="translate(539 442)"><path d="M14.77,0.64 C8.72,8.2 1.6,14.5 1.6,22 C1.6,27.7 5.16,31.6 10.5,31.6 C15.84,31.6 19.4,27.7 19.4,22 C19.4,16.3 15.84,12.7 10.5,12.7 C5.87,12.7 2.31,15.7 1.6,20.8" fill="none" stroke="#111" stroke-width="3.2" /></g>
<g transform="translate(564.5 442)"><path d="M1.94,7.52 C2.95,3.67 5.99,1.6 10.05,1.6 C14.78,1.6 17.66,4.56 17.66,9.59 C17.66,14.62 15.12,17.88 10.39,22.91 L1.6,31.2 L20.1,31.2" fill="none" stroke="#111" stroke-width="3.2" stroke-linejoin="miter"/></g>
<clipPath id="cg372"><rect x="0" y="0" width="22.6" height="31.3"/></clipPath>
<g transform="matrix(0 -1 1 0 15.6 646.3)"><path d="M-0.25,-3.28 L22.85,34.58 M22.85,-3.28 L-0.25,34.58" clip-path="url(#cg372)" fill="none" stroke="#111" stroke-width="2.8"/></g>
<g transform="matrix(0 -1 1 0 15.4 679.4)"><path d="M2.19,6.36 C4.82,2.35 8.76,1.4 12.04,1.4 C17.96,1.4 20.5,4.45 20.5,10.81 L20.5,31.8 M20.5,13.67 C13.58,13.67 1.4,13.36 1.4,23.21 C1.4,28.62 4.38,30.4 9.2,30.4 C15.33,30.4 20.5,27.35 20.5,20.99" fill="none" stroke="#111" stroke-width="2.8" stroke-linejoin="round"/></g>
<g transform="matrix(0 -1 1 0 15.4 733.8)"><path d="M1.4,0 L1.4,31.6 M1.4,13.64 C1.7,5.16 6.87,1.4 12.34,1.4 C17.82,1.4 21.3,5.7 21.3,13.64 L21.3,31.6 M21.3,13.64 C21.6,5.16 26.77,1.4 32.24,1.4 C37.72,1.4 41.2,5.7 41.2,13.64 L41.2,31.6" fill="none" stroke="#111" stroke-width="2.8" stroke-linejoin="round"/></g>
<g transform="matrix(0 -1 1 0 1.1 786.8)"><path d="M21.02,1.4 L4.14,1.4 L3.3,21.66 C6.04,18.64 9,17.13 12.37,17.13 C18.7,17.13 22.5,22.52 22.5,30.71 C22.5,39.33 18.28,44.5 11.74,44.5 C6.67,44.5 2.88,41.48 1.4,35.88" fill="none" stroke="#111" stroke-width="2.8" stroke-linejoin="miter"/></g>
<g transform="matrix(0 -1 1 0 1.1 821)"><path d="M2.04,8.73 C3.54,3.99 7.18,1.4 11.67,1.4 C17.66,1.4 21.09,5.28 21.09,11.74 C21.09,18.21 17.24,21.44 9.96,21.44 M9.96,21.44 C18.52,21.44 22.8,25.97 22.8,32.86 C22.8,40.19 18.52,44.5 11.89,44.5 C6.75,44.5 2.9,41.48 1.4,35.88" fill="none" stroke="#111" stroke-width="2.8" /></g>
<g transform="translate(357.7 633.6)"><path d="M1.35,15.2 C1.35,6.34 5.13,1.35 11.85,1.35 C18.57,1.35 22.35,6.34 22.35,15.2 C22.35,24.06 18.57,29.05 11.85,29.05 C5.13,29.05 1.35,24.06 1.35,15.2 Z M1.42,33 L21.33,-2.8" fill="none" stroke="#111" stroke-width="2.7" /></g>
<g transform="translate(390.2 619.4)"><path d="M2.09,8.51 C3.7,3.91 7.61,1.4 12.44,1.4 C18.88,1.4 22.56,5.16 22.56,11.43 C22.56,17.7 18.42,20.84 10.6,20.84 M10.6,20.84 C19.8,20.84 24.4,25.23 24.4,31.91 C24.4,39.02 19.8,43.2 12.67,43.2 C7.15,43.2 3.01,40.27 1.4,34.84" fill="none" stroke="#111" stroke-width="2.8" /></g>
<g transform="translate(424.8 620)"><path d="M21.3,1.4 L4.18,1.4 L3.33,20.76 C6.11,17.88 9.1,16.44 12.53,16.44 C18.95,16.44 22.8,21.59 22.8,29.42 C22.8,37.66 18.52,42.6 11.89,42.6 C6.75,42.6 2.9,39.72 1.4,34.36" fill="none" stroke="#111" stroke-width="2.8" stroke-linejoin="miter"/></g>
</svg></body></html>
